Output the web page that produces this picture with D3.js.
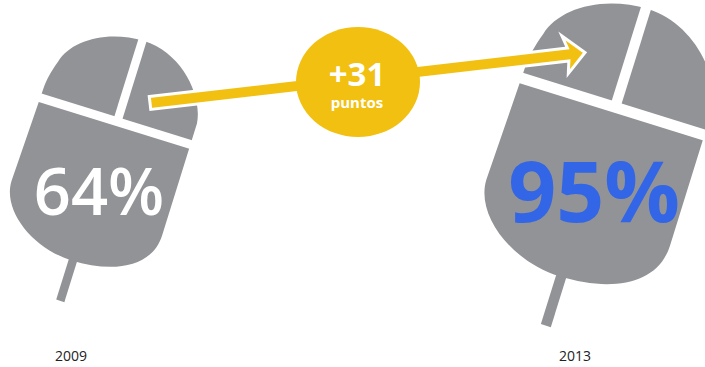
<!DOCTYPE html>
<html><head><meta charset="utf-8">
<script src="https://cdn.jsdelivr.net/npm/d3@7/dist/d3.min.js"></script>
<style>html,body{margin:0;padding:0;background:#fff;overflow:hidden}svg{display:block}text{font-family:"Open Sans",sans-serif}</style>
</head><body><svg width="705" height="367"></svg>
<script>
const years = ["2009","2013"];
const shares = [64,95];
const shareColors = ["#ffffff","#3366e6"];
const changeLabel = "+31";
const changeUnit = "puntos";

const svg = d3.select("svg");
const GREY = "#929397", YEL = "#f2c011";
const size = d3.scaleSqrt().domain([0,64]).range([0,1]);
const xYear = d3.scaleOrdinal().domain(years).range([71,575]);
const xMouse = d3.scaleOrdinal().domain(years).range([115,612.5]);
const yMouse = d3.scaleOrdinal().domain(years).range([121,106.5]);
const xText = d3.scaleOrdinal().domain(years).range([99,594]);
const yText = d3.scaleOrdinal().domain(years).range([215,222]);

const body = "M-78,-10 C-78,-18 -76,-28 -72,-40 C-66,-64 -34,-85 4,-85 C44,-85 76,-50 79,-22 L79,0 L79,95 C79,130 42,146 0,146 C-42,146 -81,118 -81,88 L-78,-10 Z";

years.forEach((y,i)=>{
  const k = size(shares[i]);
  const g = svg.append("g").attr("transform",`translate(${xMouse(y)},${yMouse(y)}) rotate(17.3) scale(${k})`);
  g.append("rect").attr("x",-3).attr("y",130).attr("width",8.5).attr("height",58).attr("fill",GREY);
  g.append("path").attr("d",body).attr("fill",GREY);
  g.append("rect").attr("x",-86).attr("y",-4.5).attr("width",172).attr("height",9).attr("fill","#fff");
  g.append("rect").attr("x",-2).attr("y",-92).attr("width",8.5).attr("height",92).attr("fill","#fff");
});

// arrow between the two mice
const ax0 = 150, ay0 = 103, ax1 = 585, ay1 = 52.5;
const len = Math.hypot(ax1-ax0, ay1-ay0), ang = Math.atan2(ay1-ay0, ax1-ax0)*180/Math.PI;
svg.append("g").attr("transform",`translate(${ax0},${ay0}) rotate(${ang})`)
  .append("path")
  .attr("d",d3.line()([[0,-6.5],[len-17,-6.5],[len-21,-19],[len,0],[len-19,19],[len-17,6.5],[0,6.5]])+"Z")
  .attr("fill",YEL).attr("stroke","#fff").attr("stroke-width",3);

svg.append("ellipse").attr("cx",358).attr("cy",82).attr("rx",62).attr("ry",55).attr("fill",YEL);
svg.append("text").attr("x",357).attr("y",86).attr("text-anchor","middle").attr("font-size",33).attr("font-weight",700).attr("fill","#fff").text(changeLabel);
svg.append("text").attr("x",357).attr("y",108).attr("text-anchor","middle").attr("font-size",15).attr("font-weight",700).attr("fill","#fff").text(changeUnit);

svg.selectAll("text.share").data(years).join("text").attr("class","share")
  .attr("x",d=>xText(d)).attr("y",d=>yText(d)).attr("text-anchor","middle")
  .attr("font-weight",(d,i)=>i?700:600).attr("font-size",(d,i)=>i?84:65)
  .attr("fill",(d,i)=>shareColors[i]).text((d,i)=>shares[i]+"%");

svg.selectAll("text.year").data(years).join("text").attr("class","year")
  .attr("x",d=>xYear(d)).attr("y",361).attr("text-anchor","middle")
  .attr("font-size",14).attr("fill","#222").text(d=>d);
</script></body></html>
